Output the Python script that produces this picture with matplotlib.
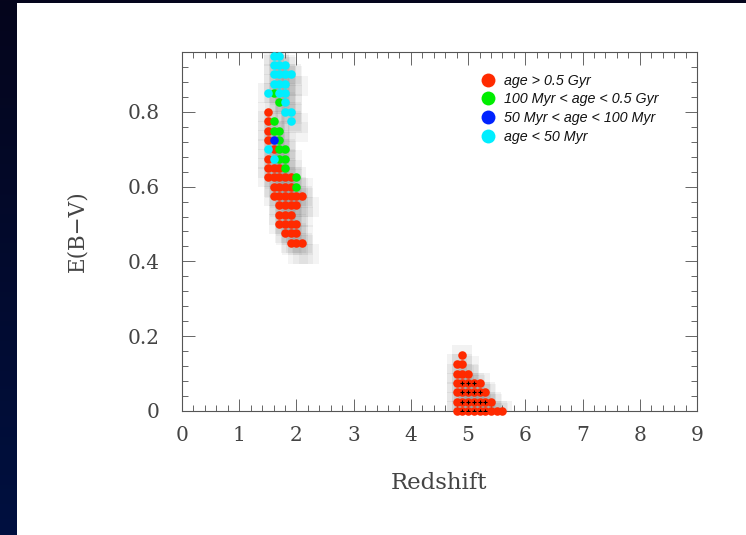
import numpy as np
import matplotlib
matplotlib.use("Agg")
import matplotlib.pyplot as plt
from matplotlib.patches import Rectangle
from matplotlib.lines import Line2D
from matplotlib.ticker import MultipleLocator
from matplotlib.colors import LinearSegmentedColormap

# ---------------- data ----------------
red_z = [1.5, 1.5, 1.5, 1.5, 1.6, 1.5,
         1.5, 1.6, 1.7,
         1.5, 1.6, 1.7, 1.8, 1.9,
         1.6, 1.7, 1.8, 1.9,
         1.6, 1.7, 1.8, 1.9, 2.0, 2.1,
         1.7, 1.8, 1.9, 2.0,
         1.7, 1.8, 1.9,
         1.7, 1.8, 1.9, 2.0,
         1.8, 1.9, 2.0,
         1.9, 2.0, 2.1,
         4.9,
         4.8, 4.9,
         4.8, 4.9, 5.0,
         4.8, 4.9, 5.0, 5.1, 5.2,
         4.8, 4.9, 5.0, 5.1, 5.2, 5.3,
         4.8, 4.9, 5.0, 5.1, 5.2, 5.3, 5.4,
         4.8, 4.9, 5.0, 5.1, 5.2, 5.3, 5.4, 5.5, 5.6]
red_e = [0.80, 0.775, 0.75, 0.725, 0.70, 0.675,
         0.65, 0.65, 0.65,
         0.625, 0.625, 0.625, 0.625, 0.625,
         0.60, 0.60, 0.60, 0.60,
         0.575, 0.575, 0.575, 0.575, 0.575, 0.575,
         0.55, 0.55, 0.55, 0.55,
         0.525, 0.525, 0.525,
         0.50, 0.50, 0.50, 0.50,
         0.475, 0.475, 0.475,
         0.45, 0.45, 0.45,
         0.15,
         0.125, 0.125,
         0.10, 0.10, 0.10,
         0.075, 0.075, 0.075, 0.075, 0.075,
         0.05, 0.05, 0.05, 0.05, 0.05, 0.05,
         0.025, 0.025, 0.025, 0.025, 0.025, 0.025, 0.025,
         0.0, 0.0, 0.0, 0.0, 0.0, 0.0, 0.0, 0.0, 0.0]

green_z = [1.6, 1.7, 1.6, 1.6, 1.7, 1.7, 1.7, 1.8, 1.7, 1.8, 1.8, 2.0, 2.0]
green_e = [0.85, 0.825, 0.775, 0.75, 0.75, 0.725, 0.70, 0.70, 0.675, 0.675, 0.65, 0.625, 0.60]

blue_z = [1.6]
blue_e = [0.725]

cyan_z = [1.6, 1.7,
          1.6, 1.7, 1.8,
          1.6, 1.7, 1.8, 1.9,
          1.6, 1.7, 1.8,
          1.5, 1.7, 1.8,
          1.8,
          1.8, 1.9,
          1.9,
          1.5, 1.6]
cyan_e = [0.95, 0.95,
          0.925, 0.925, 0.925,
          0.90, 0.90, 0.90, 0.90,
          0.875, 0.875, 0.875,
          0.85, 0.85, 0.85,
          0.825,
          0.80, 0.80,
          0.775,
          0.70, 0.675]

black_z = [4.9, 5.0, 5.1, 4.9, 5.0, 5.1, 5.2, 4.9, 5.0, 5.1, 5.2, 5.3, 4.9, 5.0, 5.1, 5.2, 5.3]
black_e = [0.075, 0.075, 0.075, 0.05, 0.05, 0.05, 0.05, 0.025, 0.025, 0.025, 0.025, 0.025, 0.0, 0.0, 0.0, 0.0, 0.0]

labels = ["age > 0.5 Gyr", "100 Myr < age < 0.5 Gyr",
          "50 Myr < age < 100 Myr", "age < 50 Myr"]
colors = ["#ff2a00", "#00ee00", "#0022ff", "#00eeff"]

x_ticks = list(range(0, 10))
y_ticks = [0, 0.2, 0.4, 0.6, 0.8]
y_ticklabels = ["0", "0.2", "0.4", "0.6", "0.8"]

# ---------------- figure ----------------
W, H = 746, 535
fig = plt.figure(figsize=(W / 100, H / 100), dpi=100)

bg = fig.add_axes([0, 0, 1, 1], zorder=-10)
grad = np.linspace(0, 1, 256).reshape(-1, 1)
cmap = LinearSegmentedColormap.from_list("bg", ["#05051c", "#001040"])
bg.imshow(grad, aspect="auto", cmap=cmap, extent=[0, 1, 0, 1], origin="upper")
bg.add_patch(Rectangle((17 / W, 0), 1 - 17 / W, 1 - 3 / H, facecolor="white",
                       edgecolor="none", transform=bg.transAxes))
bg.set_xlim(0, 1)
bg.set_ylim(0, 1)
bg.axis("off")

ax = fig.add_axes([182 / W, 1 - 411 / H, (697 - 182) / W, (411 - 52) / H])
ax.set_facecolor("none")
ax.set_xlim(0, 9)
ax.set_ylim(0, 0.96)

all_z = np.array(red_z + green_z + blue_z + cyan_z)
all_e = np.array(red_e + green_e + blue_e + cyan_e)
ax.scatter(all_z, all_e, s=190, marker="s", color="#8a8a8a", alpha=0.11,
           linewidths=0, zorder=1)
ax.scatter(all_z + 0.12, all_e - 0.03, s=190, marker="s", color="#8a8a8a",
           alpha=0.09, linewidths=0, zorder=1)

ms = 38
ax.scatter(red_z, red_e, s=ms, color=colors[0], linewidths=0, zorder=3, clip_on=False)
ax.scatter(green_z, green_e, s=ms, color=colors[1], linewidths=0, zorder=3, clip_on=False)
ax.scatter(blue_z, blue_e, s=ms, color=colors[2], linewidths=0, zorder=3, clip_on=False)
ax.scatter(cyan_z, cyan_e, s=ms, color=colors[3], linewidths=0, zorder=3, clip_on=False)
ax.scatter(black_z, black_e, s=8, marker="+", color="black", linewidths=0.8, zorder=4)

for sp in ax.spines.values():
    sp.set_color("#555555")
    sp.set_linewidth(0.8)
ax.set_xticks(x_ticks)
ax.set_yticks(y_ticks)
ax.set_yticklabels(y_ticklabels)
ax.xaxis.set_minor_locator(MultipleLocator(0.2))
ax.yaxis.set_minor_locator(MultipleLocator(0.04))
ax.tick_params(which="both", direction="in", top=True, right=True, color="#666666",
               width=0.7)
ax.tick_params(which="major", length=9)
ax.tick_params(which="minor", length=4.5)
ax.tick_params(axis="x", which="major", pad=11)
ax.tick_params(axis="y", which="major", pad=16)

FONT = "DejaVu Serif"
for lab in ax.get_xticklabels() + ax.get_yticklabels():
    lab.set_fontfamily(FONT)
    lab.set_fontsize(14.5)
    lab.set_color("#444444")

ax.set_xlabel("Redshift", fontfamily=FONT, fontsize=16.5, color="#444444",
              labelpad=19)
ax.set_ylabel("E(B\u2212V)", fontfamily=FONT, fontsize=15.5, color="#444444",
              labelpad=28)

handles = [Line2D([], [], marker="o", linestyle="none", markersize=10,
                  markerfacecolor=c, markeredgewidth=0) for c in colors]
leg = ax.legend(handles, labels, loc="upper left", bbox_to_anchor=(0.566, 0.96),
                frameon=False, borderpad=0, handlelength=1.0, handletextpad=0.6,
                labelspacing=0.33,
                prop=dict(family="Liberation Sans", style="italic", size=10.3))
for t in leg.get_texts():
    t.set_color("#111111")

fig.savefig("out.png", dpi=100)
